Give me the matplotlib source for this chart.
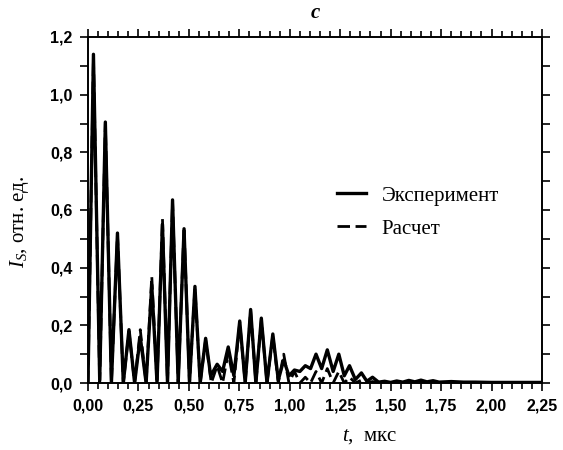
import matplotlib
matplotlib.use("Agg")
import matplotlib.pyplot as plt
from matplotlib.ticker import MultipleLocator, FuncFormatter

t_exp = [0.0, 0.027, 0.058, 0.086, 0.116, 0.146, 0.175, 0.203, 0.231, 0.259,
         0.288, 0.316, 0.342, 0.369, 0.394, 0.419, 0.447, 0.476, 0.503, 0.530,
         0.556, 0.583, 0.608, 0.640, 0.667, 0.695, 0.723, 0.752, 0.779, 0.806,
         0.832, 0.859, 0.887, 0.916, 0.943, 0.970, 0.996, 1.023, 1.050, 1.077,
         1.103, 1.130, 1.158, 1.186, 1.215, 1.243, 1.270, 1.296, 1.325, 1.355,
         1.382, 1.410, 1.440, 1.470, 1.500, 1.530, 1.560, 1.590, 1.620, 1.650,
         1.680, 1.710, 1.740, 1.800, 1.860, 1.920, 2.000, 2.100, 2.250]
v_exp = [0.0, 1.14, 0.01, 0.905, 0.0, 0.52, 0.0, 0.185, 0.0, 0.16,
         0.0, 0.34, 0.0, 0.55, 0.0, 0.635, 0.0, 0.535, 0.0, 0.335,
         0.0, 0.155, 0.025, 0.065, 0.04, 0.125, 0.025, 0.215, 0.0, 0.255,
         0.0, 0.225, 0.0, 0.17, 0.01, 0.08, 0.025, 0.045, 0.04, 0.06,
         0.05, 0.10, 0.05, 0.115, 0.04, 0.10, 0.025, 0.06, 0.012, 0.035,
         0.006, 0.02, 0.003, 0.006, 0.002, 0.007, 0.003, 0.009, 0.004, 0.01,
         0.004, 0.008, 0.003, 0.005, 0.003, 0.003, 0.002, 0.002, 0.002]

# Calculation (dashed)
t_calc = [0.0, 0.027, 0.058, 0.086, 0.116, 0.146, 0.175, 0.203, 0.231, 0.259,
          0.288, 0.316, 0.342, 0.369, 0.394, 0.419, 0.447, 0.476, 0.503, 0.530,
          0.556, 0.583, 0.611, 0.640, 0.667, 0.695, 0.723, 0.752, 0.779, 0.806,
          0.832, 0.859, 0.887, 0.916, 0.943, 0.970, 0.996, 1.023, 1.050, 1.077,
          1.103, 1.130, 1.158, 1.186, 1.215, 1.243, 1.270, 1.296, 1.325, 1.355,
          1.382, 1.410, 1.440, 1.500, 1.600, 1.700, 1.800, 2.000, 2.250]
v_calc = [0.0, 1.13, 0.0, 0.90, 0.0, 0.515, 0.0, 0.18, 0.0, 0.185,
          0.0, 0.37, 0.0, 0.57, 0.0, 0.63, 0.0, 0.54, 0.0, 0.33,
          0.0, 0.15, 0.0, 0.06, 0.0, 0.105, 0.0, 0.21, 0.0, 0.25,
          0.0, 0.22, 0.0, 0.165, 0.0, 0.10, 0.0, 0.04, 0.0, 0.02,
          0.0, 0.04, 0.0, 0.05, 0.0, 0.04, 0.0, 0.02, 0.0, 0.01,
          0.0, 0.005, 0.0, 0.002, 0.002, 0.002, 0.002, 0.001, 0.001]

plt.rcParams['mathtext.fontset'] = 'custom'
plt.rcParams['mathtext.rm'] = 'Liberation Serif'
plt.rcParams['mathtext.it'] = 'Liberation Serif:italic'

fig = plt.figure(figsize=(5.63, 4.5), dpi=100)
ax = fig.add_axes([88/563, 1-383/450, (542-88)/563, (383-37)/450])

ax.plot(t_exp, v_exp, color='black', lw=2.4, solid_joinstyle='round', label='Эксперимент')
ax.plot(t_calc, v_calc, color='black', lw=2.0, dashes=(4.5, 2), label='Расчет')

ax.set_xlim(0, 2.25)
ax.set_ylim(0, 1.2)
ax.xaxis.set_major_locator(MultipleLocator(0.25))
ax.xaxis.set_minor_locator(MultipleLocator(0.05))
ax.yaxis.set_major_locator(MultipleLocator(0.2))
ax.yaxis.set_minor_locator(MultipleLocator(0.1))
ax.xaxis.set_major_formatter(FuncFormatter(lambda v, p: f"{v:.2f}".replace('.', ',')))
ax.yaxis.set_major_formatter(FuncFormatter(lambda v, p: f"{v:.1f}".replace('.', ',')))

ax.tick_params(which='both', direction='out', top=True, right=True, width=1.2)
ax.tick_params(which='major', length=6, pad=5)
ax.tick_params(which='minor', length=4)
ax.tick_params(axis='y', which='minor', length=6)
for lab in ax.get_xticklabels() + ax.get_yticklabels():
    lab.set_fontfamily('Liberation Sans')
    lab.set_fontweight('bold')
    lab.set_fontsize(11.5)
for s in ax.spines.values():
    s.set_linewidth(1.4)

leg = ax.legend(loc='upper left', bbox_to_anchor=((337-88)/454, (383-186)/346),
                frameon=False, borderpad=0, borderaxespad=0,
                handlelength=1.4, handletextpad=0.75, labelspacing=0.65,
                prop={'family': 'Liberation Serif', 'size': 15})

fig.text(20/563, 1-222/450, r'$I_S$, отн. ед.', rotation=90, ha='center', va='center',
         fontsize=15, family='Liberation Serif')
fig.text(370/563, 1-437/450, r'$t$,  мкс', ha='center', va='center',
         fontsize=15, family='Liberation Serif')
fig.text(315/563, 1-13/450, 'c', ha='center', va='center', fontsize=15,
         family='Liberation Serif', style='italic', weight='bold')

fig.savefig('out.png', dpi=100)
